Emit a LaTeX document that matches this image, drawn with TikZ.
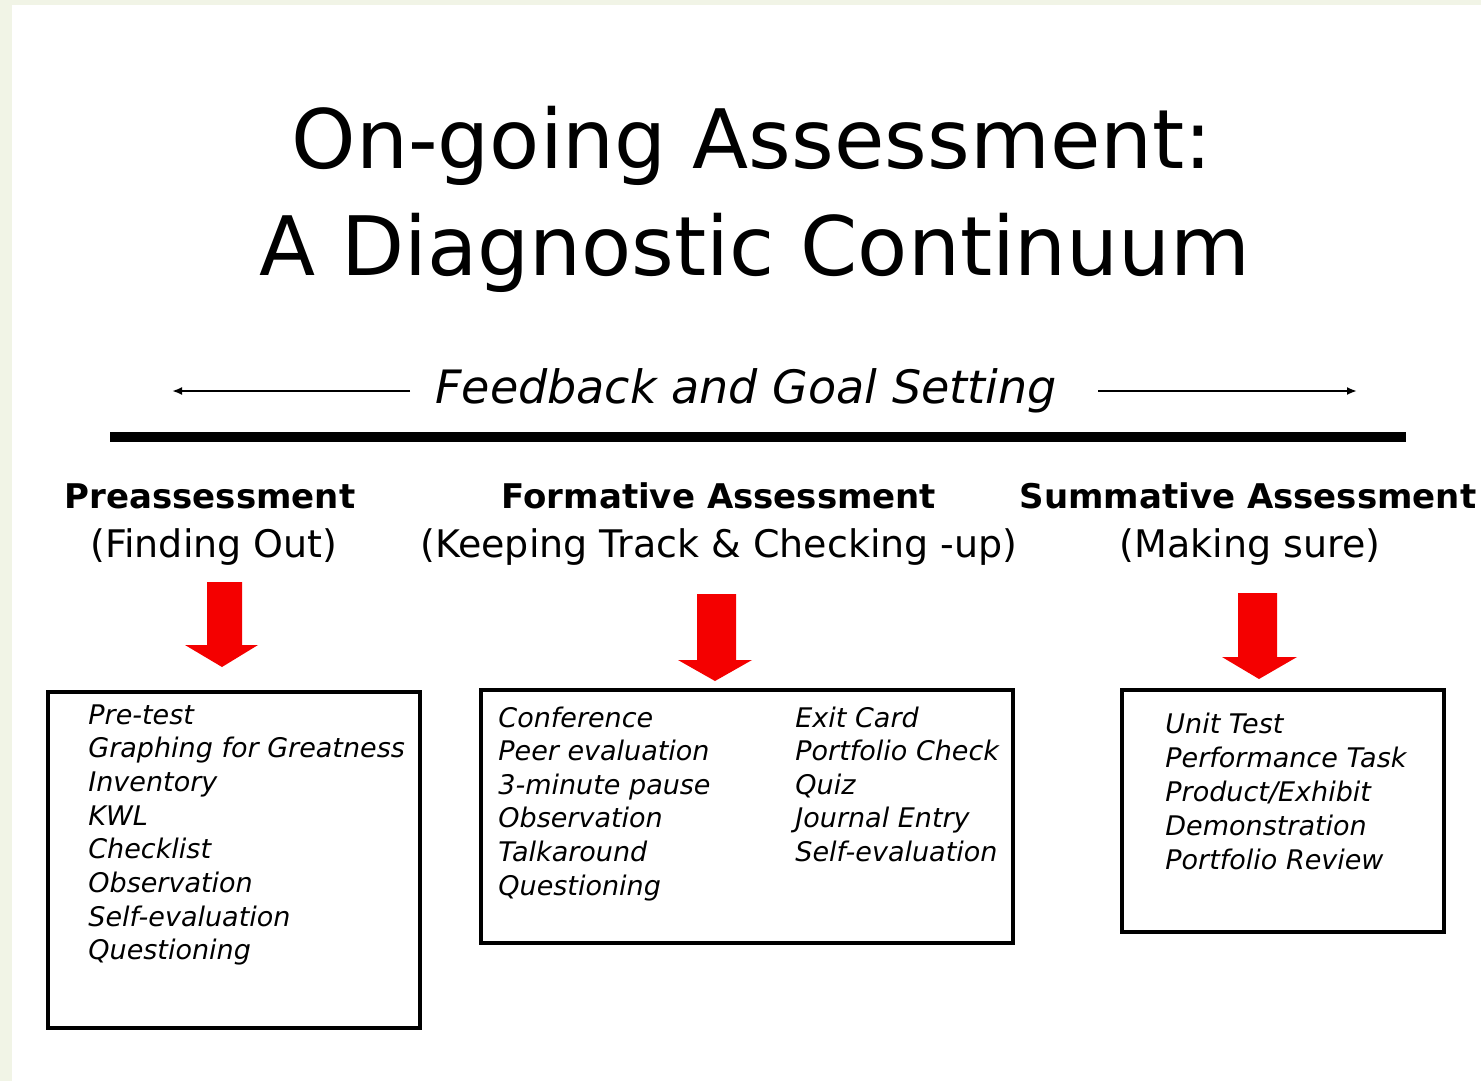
\documentclass[tikz,border=0pt]{standalone}
\usepackage{fontspec}
\setmainfont{DejaVu Sans}
\usetikzlibrary{arrows.meta}
\definecolor{bgside}{HTML}{F1F4E6}
\definecolor{arrowred}{HTML}{F40000}
\begin{document}
\begin{tikzpicture}[x=0.5pt,y=-0.5pt,
  title/.style={anchor=base, inner sep=0pt, font=\fontsize{41}{48}\selectfont},
  feedback/.style={anchor=base, inner sep=0pt, font=\fontsize{23}{27}\selectfont\itshape},
  head/.style={anchor=base, inner sep=0pt, font=\fontsize{17}{20}\selectfont\bfseries},
  sub/.style={anchor=base, inner sep=0pt, font=\fontsize{19}{22}\selectfont},
  item/.style={anchor=base west, inner sep=0pt, font=\fontsize{13.5}{16}\selectfont\itshape},
  listbox/.style={draw=black, line width=2pt},
  blockarrow/.style={fill=arrowred, draw=none},
  thin arrow/.style={line width=1pt, -{Latex[length=5pt,width=4pt]}}]
\fill[bgside] (0,0) rectangle (1481,1081);
\fill[white] (12,5) rectangle (1481,1081);
\useasboundingbox (0,0) rectangle (1481,1081);

% Title
\node[title] (t1) at (752,168) {On-going Assessment:};
\node[title] (t2) at (755,275) {A Diagnostic Continuum};

% Feedback line
\node[feedback] (fb) at (746,403) {Feedback and Goal Setting};
\coordinate (fbLs) at (410,391);
\coordinate (fbLe) at (172,391);
\coordinate (fbRs) at (1098,391);
\coordinate (fbRe) at (1357,391);
\draw[thin arrow] (fbLs) -- (fbLe);
\draw[thin arrow] (fbRs) -- (fbRe);

% Thick rule
\coordinate (ruleL) at (110,437);
\coordinate (ruleR) at (1406,437);
\draw[line width=5pt] (ruleL) -- (ruleR);

% Headers
\node[head] (h1) at (210,508) {Preassessment};
\node[sub] (s1) at (214,557) {(Finding Out)};
\node[head] (h2) at (719,508) {Formative Assessment};
\node[sub] (s2) at (719,557) {(Keeping Track \& Checking -up)};
\node[head] (h3) at (1248,508) {Summative Assessment};
\node[sub] (s3) at (1250,557) {(Making sure)};

% Red block arrows
\fill[blockarrow] (207,582) -- (242,582) -- (242,645) -- (258,645) -- (222,667) -- (185,645) -- (207,645) -- cycle;
\fill[blockarrow] (697,594) -- (736,594) -- (736,660) -- (752,660) -- (715,681) -- (678,660) -- (697,660) -- cycle;
\fill[blockarrow] (1238,593) -- (1277,593) -- (1277,657) -- (1297,657) -- (1259,679) -- (1222,657) -- (1238,657) -- cycle;

% Boxes
\draw[listbox] (48,692) rectangle (420,1028);
\draw[listbox] (481,690) rectangle (1013,943);
\draw[listbox] (1122,690) rectangle (1444,932);

% Items: preassessment
\foreach \t [count=\i from 0] in {Pre-test, Graphing for Greatness, Inventory, KWL, Checklist, Observation, Self-evaluation, Questioning}
  \node[item] (pa\i) at (88,724+33.7*\i) {\t};

% Items: formative, left column
\foreach \t [count=\i from 0] in {Conference, Peer evaluation, 3-minute pause, Observation, Talkaround, Questioning}
  \node[item] (fa\i) at (498,727+33.6*\i) {\t};

% Items: formative, right column
\foreach \t [count=\i from 0] in {Exit Card, Portfolio Check, Quiz, Journal Entry, Self-evaluation}
  \node[item] (fb\i) at (795,727+33.6*\i) {\t};

% Items: summative
\foreach \t [count=\i from 0] in {Unit Test, Performance Task, Product/Exhibit, Demonstration, Portfolio Review}
  \node[item] (sa\i) at (1165,733+34*\i) {\t};
\end{tikzpicture}
\end{document}
